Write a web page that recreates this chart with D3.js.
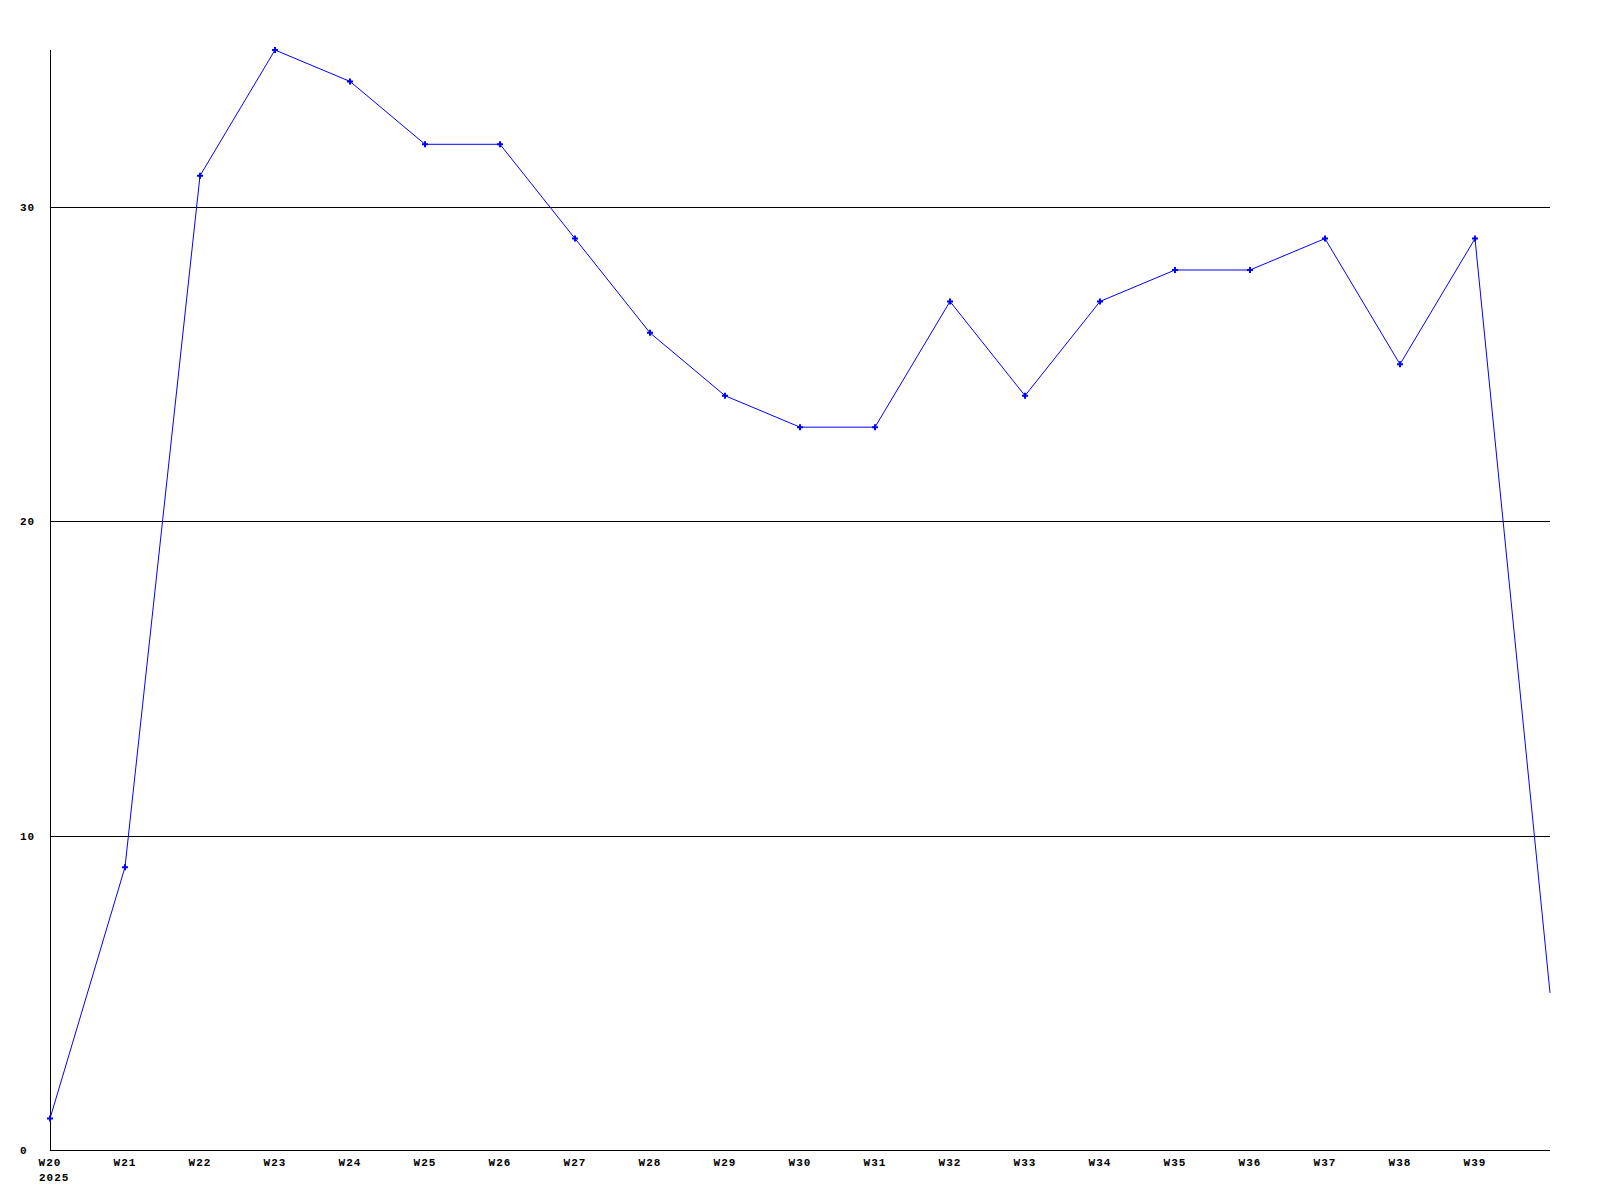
<!DOCTYPE html>
<html>
<head>
<meta charset="utf-8">
<script src="https://cdn.jsdelivr.net/npm/d3@7"></script>
<style>
  body { margin: 0; background: #fff; }
  svg text { font-family: "Liberation Mono", "DejaVu Sans Mono", monospace; font-weight: bold; font-size: 11px; letter-spacing: 1px; fill: #000; }
</style>
</head>
<body>
<svg id="chart" width="1600" height="1200"></svg>
<script>
// weekly values, W20 .. W39, plus the partial current week at the end
const weeks = ["W20", "W21", "W22", "W23", "W24", "W25", "W26", "W27", "W28", "W29",
               "W30", "W31", "W32", "W33", "W34", "W35", "W36", "W37", "W38", "W39"];
const values = [1, 9, 31, 35, 34, 32, 32, 29, 26, 24, 23, 23, 27, 24, 27, 28, 28, 29, 25, 29];
const lastValue = 5;      // partial week, no marker
const yTicks = [0, 10, 20, 30];
const yearLabel = "2025";

const margin = { top: 50, right: 50, bottom: 50, left: 50 };
const width = 1600, height = 1200;

const svg = d3.select("#chart");

const x = d3.scaleLinear()
    .domain([0, weeks.length])
    .range([margin.left, width - margin.right]);
const y = d3.scaleLinear()
    .domain([0, 35])
    .range([height - margin.bottom, margin.top]);

// grid lines
svg.append("g")
    .selectAll("line")
    .data(yTicks.filter(d => d > 0))
    .join("line")
    .attr("x1", x(0))
    .attr("x2", x(weeks.length))
    .attr("y1", d => Math.round(y(d)) + 0.5)
    .attr("y2", d => Math.round(y(d)) + 0.5)
    .attr("stroke", "#000")
    .attr("stroke-width", 1);

// axes
svg.append("line")
    .attr("x1", x(0) + 0.5).attr("x2", x(0) + 0.5)
    .attr("y1", y(35)).attr("y2", y(0))
    .attr("stroke", "#000");
svg.append("line")
    .attr("x1", x(0)).attr("x2", x(weeks.length))
    .attr("y1", y(0) + 0.5).attr("y2", y(0) + 0.5)
    .attr("stroke", "#000");

// y labels
svg.append("g")
    .selectAll("text")
    .data(yTicks)
    .join("text")
    .attr("x", 20)
    .attr("y", d => y(d))
    .attr("dy", "0.35em")
    .text(d => d);

// x labels
svg.append("g")
    .selectAll("text")
    .data(weeks)
    .join("text")
    .attr("x", (d, i) => x(i))
    .attr("y", 1166)
    .attr("text-anchor", "middle")
    .text(d => d);

svg.append("text")
    .attr("x", x(0) - 11)
    .attr("y", 1181)
    .text(yearLabel);

// line
const pts = values.map((v, i) => [x(i), y(v)]);
pts.push([x(weeks.length), y(lastValue)]);

svg.append("path")
    .attr("d", d3.line()(pts))
    .attr("fill", "none")
    .attr("stroke", "#0000ff")
    .attr("stroke-width", 1);

// markers
svg.append("g")
    .selectAll("path")
    .data(values)
    .join("path")
    .attr("transform", (d, i) => `translate(${x(i)},${y(d)})`)
    .attr("d", d3.symbol(d3.symbolCross, 20)())
    .attr("fill", "#0000ff");
</script>
</body>
</html>
